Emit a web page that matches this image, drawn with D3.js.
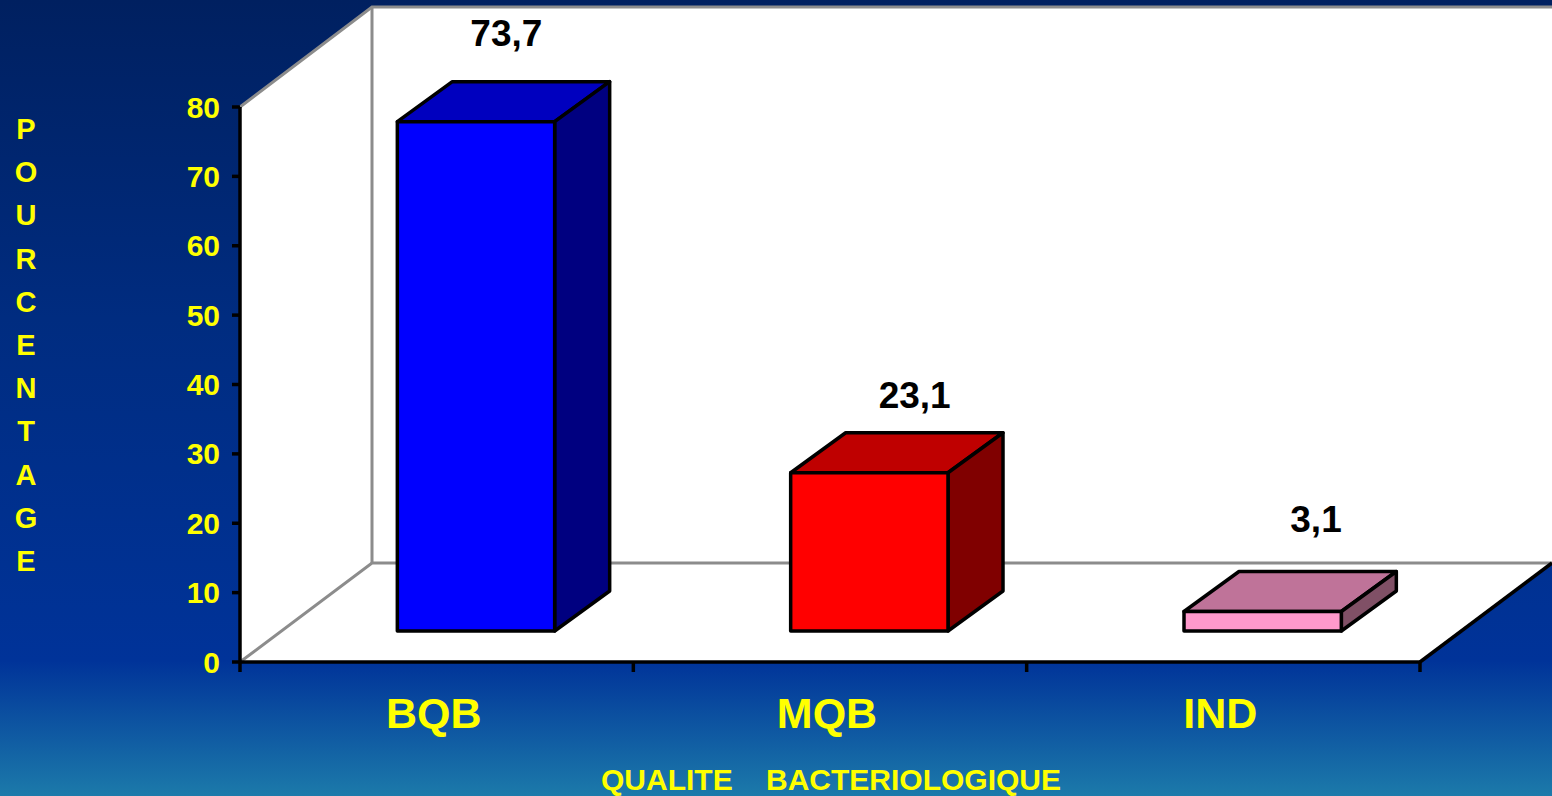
<!DOCTYPE html>
<html>
<head>
<meta charset="utf-8">
<script src="https://cdn.jsdelivr.net/npm/d3@7"></script>
<style>
  body { margin: 0; overflow: hidden; }
  svg { display: block; }
  text { font-family: "Liberation Sans", Arial, sans-serif; font-weight: bold; }
  .domain { stroke: #000; stroke-width: 3.5; }
  .tick line { stroke: #000; stroke-width: 3.5; }
</style>
</head>
<body>
<div id="chart"></div>
<script>
// 3D style column chart, bacteriological quality

const categories = ['BQB', 'MQB', 'IND'];
const values = [73.7, 23.1, 3.1];
const valueLabels = ['73,7', '23,1', '3,1'];
const yTicks = [0, 10, 20, 30, 40, 50, 60, 70, 80];
const frontColors = ['#0000ff', '#ff0000', '#ff99cc'];
const topColors = ['#0000bf', '#bf0000', '#bf7399'];
const sideColors = ['#000080', '#800000', '#805066'];
const yTitle = 'POURCENTAGE'.split('');
const xTitle = 'QUALITE    BACTERIOLOGIQUE';

const width = 1552;
const height = 796;

// front plane of the chart box, and how far the back wall is pushed
const plotLeft = 240, plotRight = 1420, plotBottom = 662, plotTop = 107;
const depthX = 132, depthY = 99;
// bars stand a bit behind the front edge
const barLiftY = 31, barTopLiftY = 29, barDepthX = 55, barDepthY = 40;
// the value labels were moved by hand in the original, so each has its own nudge
const labelNudgeX = [109, 124, 132];
const labelNudgeY = [-76, -65, -79];

const svg = d3.select('#chart').append('svg')
  .attr('width', width)
  .attr('height', height);

const grad = svg.append('defs').append('linearGradient')
  .attr('id', 'bg')
  .attr('x1', 0).attr('y1', 0).attr('x2', 0).attr('y2', 1);
grad.append('stop').attr('offset', '0%').attr('stop-color', '#002060');
grad.append('stop').attr('offset', '40%').attr('stop-color', '#002c80');
grad.append('stop').attr('offset', '83%').attr('stop-color', '#003399');
grad.append('stop').attr('offset', '100%').attr('stop-color', '#1c7aaa');

svg.append('rect')
  .attr('width', width)
  .attr('height', height)
  .attr('fill', 'url(#bg)');

const yScale = d3.scaleLinear().domain([0, 80]).range([plotBottom, plotTop]);
const xScale = d3.scaleBand().domain(categories).range([plotLeft, plotRight]);
const step = xScale.bandwidth();
const pts = a => a.map(p => p.join(',')).join(' ');

// walls and floor
const wall = '#8c8c8c';
const backTop = plotTop - depthY - 1;
const backBottom = plotBottom - depthY;
const backLeft = plotLeft + depthX;

svg.append('polygon')
  .attr('points', pts([[backLeft, backTop], [width + 2, backTop], [width + 2, backBottom], [backLeft, backBottom]]))
  .attr('fill', '#fff');
svg.append('polygon')
  .attr('points', pts([[plotLeft, plotTop], [backLeft, backTop], [backLeft, backBottom], [plotLeft, plotBottom]]))
  .attr('fill', '#fff');
svg.append('polygon')
  .attr('points', pts([[plotLeft, plotBottom], [backLeft, backBottom], [width, backBottom], [plotRight, plotBottom]]))
  .attr('fill', '#fff');

svg.append('polyline')
  .attr('points', pts([[plotLeft, plotTop], [backLeft, backTop], [width + 2, backTop]]))
  .attr('fill', 'none').attr('stroke', wall).attr('stroke-width', 3);
svg.append('polyline')
  .attr('points', pts([[plotLeft, plotBottom], [backLeft, backBottom], [width + 2, backBottom]]))
  .attr('fill', 'none').attr('stroke', wall).attr('stroke-width', 3);
svg.append('line')
  .attr('x1', backLeft).attr('x2', backLeft)
  .attr('y1', backTop).attr('y2', backBottom)
  .attr('stroke', wall).attr('stroke-width', 3);
svg.append('line')
  .attr('x1', plotRight).attr('x2', width)
  .attr('y1', plotBottom).attr('y2', backBottom)
  .attr('stroke', '#000').attr('stroke-width', 3.5);

// bars
const barGroups = svg.selectAll('.bar')
  .data(categories)
  .enter()
  .append('g')
  .attr('class', 'bar')
  .attr('stroke', '#000')
  .attr('stroke-width', 3.5)
  .attr('stroke-linejoin', 'round');

const barX = c => xScale(c) + step * 0.4;
const barW = step * 0.4;
const barTop = i => yScale(values[i]) - barTopLiftY;
const barBase = plotBottom - barLiftY;

barGroups.append('polygon')
  .attr('points', (c, i) => pts([
    [barX(c), barTop(i)], [barX(c) + barDepthX, barTop(i) - barDepthY],
    [barX(c) + barW + barDepthX, barTop(i) - barDepthY], [barX(c) + barW, barTop(i)]]))
  .attr('fill', (c, i) => topColors[i]);

barGroups.append('polygon')
  .attr('points', (c, i) => pts([
    [barX(c) + barW, barTop(i)], [barX(c) + barW + barDepthX, barTop(i) - barDepthY],
    [barX(c) + barW + barDepthX, barBase - barDepthY], [barX(c) + barW, barBase]]))
  .attr('fill', (c, i) => sideColors[i]);

barGroups.append('rect')
  .attr('x', c => barX(c))
  .attr('y', (c, i) => barTop(i))
  .attr('width', barW)
  .attr('height', (c, i) => barBase - barTop(i))
  .attr('fill', (c, i) => frontColors[i]);

svg.selectAll('.value')
  .data(categories)
  .enter()
  .append('text')
  .attr('class', 'value')
  .attr('x', (c, i) => barX(c) + labelNudgeX[i])
  .attr('y', (c, i) => barTop(i) + labelNudgeY[i])
  .attr('text-anchor', 'middle')
  .attr('font-size', 37)
  .attr('fill', '#000')
  .text((c, i) => valueLabels[i]);

// axes
const yAxis = svg.append('g')
  .attr('transform', `translate(${plotLeft}, 0)`)
  .call(d3.axisLeft(yScale).tickValues(yTicks).tickSize(8).tickPadding(12).tickSizeOuter(0).offset(0));
yAxis.selectAll('text')
  .attr('fill', '#ffff00')
  .attr('font-size', 30)
  .attr('y', 1)
  .style('font-family', '"Liberation Sans", Arial, sans-serif');

const xEdges = categories.map(c => xScale(c)).concat([plotRight]);
svg.append('g')
  .attr('transform', `translate(0, ${plotBottom})`)
  .call(d3.axisBottom(d3.scaleLinear().domain([plotLeft, plotRight]).range([plotLeft, plotRight]))
    .tickValues(xEdges).tickSize(10).tickSizeOuter(0).tickFormat('').offset(0));

svg.selectAll('.cat')
  .data(categories)
  .enter()
  .append('text')
  .attr('class', 'cat')
  .attr('x', c => xScale(c) + step / 2 - 3)
  .attr('y', 728)
  .attr('text-anchor', 'middle')
  .attr('font-size', 43)
  .attr('fill', '#ffff00')
  .text(c => c);

// titles
svg.selectAll('.ytitle')
  .data(yTitle)
  .enter()
  .append('text')
  .attr('class', 'ytitle')
  .attr('x', 26)
  .attr('y', (d, i) => 139 + i * 43.2)
  .attr('text-anchor', 'middle')
  .attr('font-size', 29)
  .attr('fill', '#ffff00')
  .text(d => d);

svg.append('text')
  .attr('x', 831)
  .attr('y', 790)
  .attr('text-anchor', 'middle')
  .attr('font-size', 30)
  .attr('fill', '#ffff00')
  .attr('textLength', 460)
  .attr('lengthAdjust', 'spacing')
  .style('white-space', 'pre')
  .text(xTitle);
</script>
</body>
</html>
